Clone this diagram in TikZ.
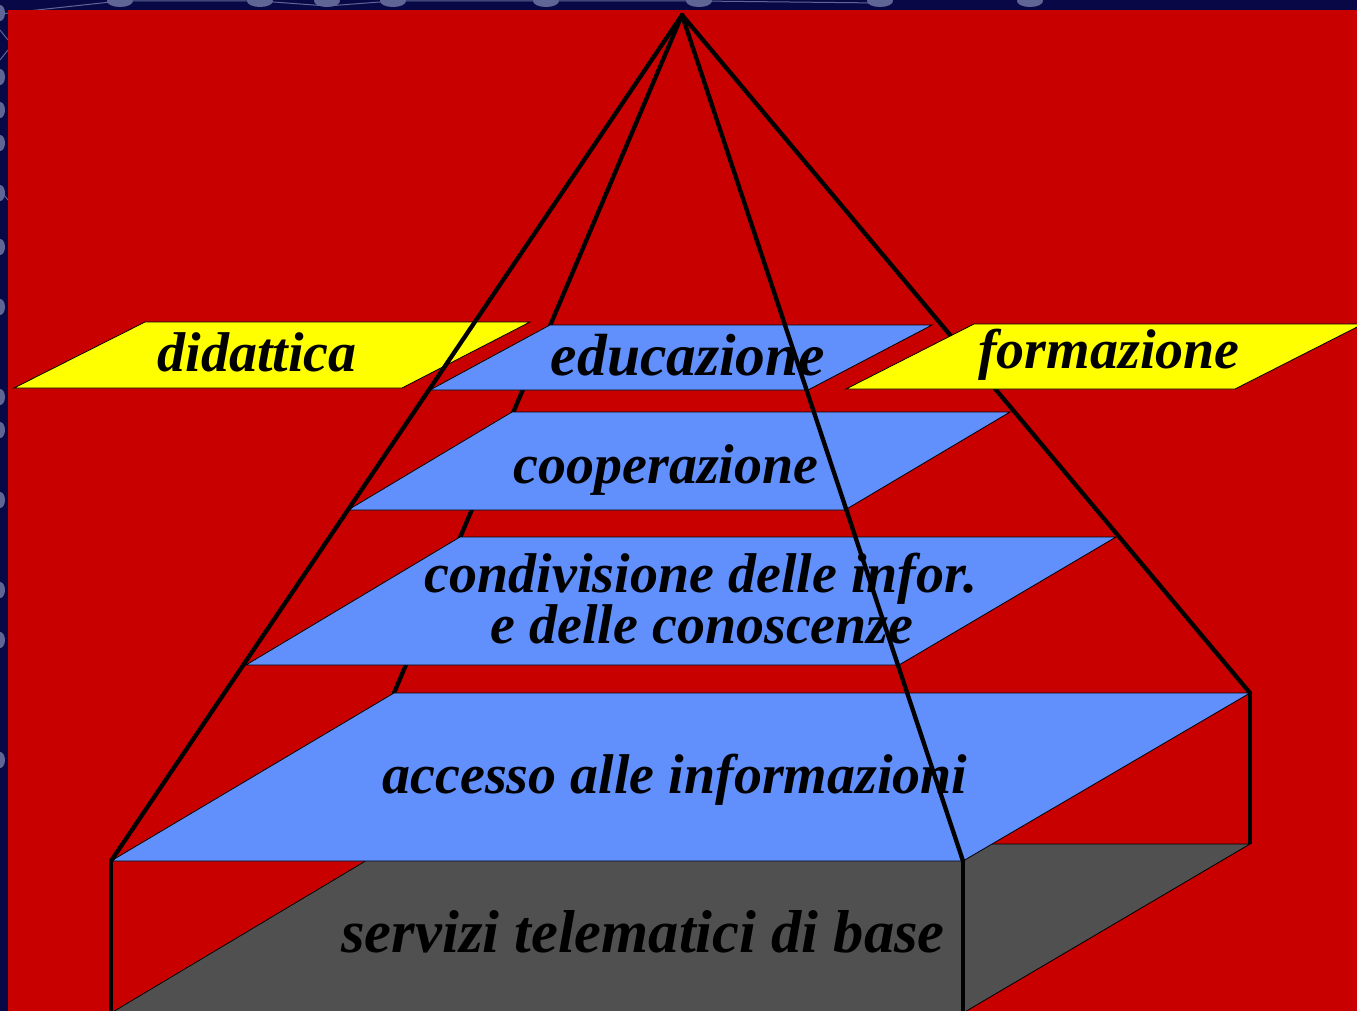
\documentclass[tikz,border=0pt]{standalone}
\usepackage{fontspec}
\setmainfont{Liberation Serif}
\definecolor{bgred}{RGB}{200,0,0}
\definecolor{planeblue}{RGB}{97,144,252}
\definecolor{tagyellow}{RGB}{255,255,0}
\definecolor{floorgray}{RGB}{80,80,80}
\definecolor{navy}{RGB}{8,8,70}
\definecolor{blob}{RGB}{95,102,150}
\tikzset{
  plane/.style={draw=black, line width=0.8pt, fill=planeblue},
  tag/.style={draw=black, line width=0.8pt, fill=tagyellow},
  edge/.style={draw=black, line width=4.3pt, line cap=round},
  post/.style={draw=black, line width=3.4pt},
  lbl/.style={anchor=base, inner sep=0pt, font=\bfseries\itshape\fontsize{56}{56}\selectfont},
  biglbl/.style={lbl, font=\bfseries\itshape\fontsize{60.5}{60}\selectfont}
}
\begin{document}
\begin{tikzpicture}[x=1pt,y=-1pt]
\useasboundingbox (0,0) rectangle (1357,1011);
\clip (0,0) rectangle (1357,1011);
% patterned border
\fill[navy] (0,0) rectangle (1357,1011);
\foreach \x in {120,260,327,393,546,699,880,1030} {
  \fill[blob] (\x,1) ellipse (13 and 6);
}
\draw[blob, line width=1pt] (0,14) -- (120,1) -- (260,1) -- (327,6) -- (393,1) -- (546,1) -- (699,1) -- (880,3);
\foreach \y in {13,77,110,143,193,247,307,397,430,500,590,640,760} {
  \fill[blob] (0,\y) ellipse (5 and 8);
}
\draw[blob, line width=1pt] (0,30) -- (8,40) (0,60) -- (8,50) (0,190) -- (8,200);
% red field
\fill[bgred] (8,10) rectangle (1357,1011);

% apex and corners
\coordinate (apex) at (682,15);
\coordinate (eTL) at (550,325); \coordinate (eTR) at (932,325);
\coordinate (eBR) at (808,390); \coordinate (eBL) at (430,390);
\coordinate (cTL) at (512,412); \coordinate (cTR) at (1010,412);
\coordinate (cBR) at (845,510); \coordinate (cBL) at (348,510);
\coordinate (dTL) at (460,537); \coordinate (dTR) at (1116,537);
\coordinate (dBR) at (899,665); \coordinate (dBL) at (246,665);
\coordinate (aTL) at (394,693); \coordinate (aTR) at (1250,693);
\coordinate (aBR) at (963,861); \coordinate (aBL) at (111,861);
\coordinate (fTL) at (394,844); \coordinate (fTR) at (1250,844);
\coordinate (fBR) at (963,1013); \coordinate (fBL) at (111,1013);
\coordinate (aBLd) at (111,1013); \coordinate (aBRd) at (963,1013);

% floor of the base box
\filldraw[fill=floorgray, draw=black, line width=0.8pt] (fTL) -- (fTR) -- (fBR) -- (fBL) -- cycle;

% hidden pyramid edges
\draw[edge] (apex) -- (aTL);
\draw[edge] (apex) -- (aTR);
\draw[post] (aTR) -- (fTR);

% planes
\filldraw[plane] (aTL) -- (aTR) -- (aBR) -- (aBL) -- cycle;
\filldraw[plane] (dTL) -- (dTR) -- (dBR) -- (dBL) -- cycle;
\filldraw[plane] (cTL) -- (cTR) -- (cBR) -- (cBL) -- cycle;
\filldraw[plane] (eTL) -- (eTR) -- (eBR) -- (eBL) -- cycle;

% yellow tags
\filldraw[tag] (145,322) coordinate (yTL) -- (530,322) -- (402,388) -- (14,388) -- cycle;
\filldraw[tag] (974,324) coordinate (zTL) -- (1363,324) -- (1235,389) -- (846,389) -- cycle;

% labels
\node[lbl] (didattica) at (257,371) {didattica};
\node[lbl] (formazione) at (1109,368) {formazione};
\node[lbl, font=\bfseries\itshape\fontsize{59.5}{59}\selectfont] (educazione) at (688,375) {educazione};
\node[lbl] (cooperazione) at (666,483) {cooperazione};
\node[lbl] (condA) at (701,592) {condivisione delle infor.};
\node[lbl] (condB) at (702,643) {e delle conoscenze};
\node[lbl] (accesso) at (675,793) {accesso alle informazioni};
\node[biglbl] (servizi) at (643,952) {servizi telematici di base};

% front pyramid edges and posts
\draw[edge] (apex) -- (aBL);
\draw[edge] (apex) -- (aBR);
\draw[post] (aBL) -- (aBLd);
\draw[post] (aBR) -- (aBRd);
\end{tikzpicture}
\end{document}
